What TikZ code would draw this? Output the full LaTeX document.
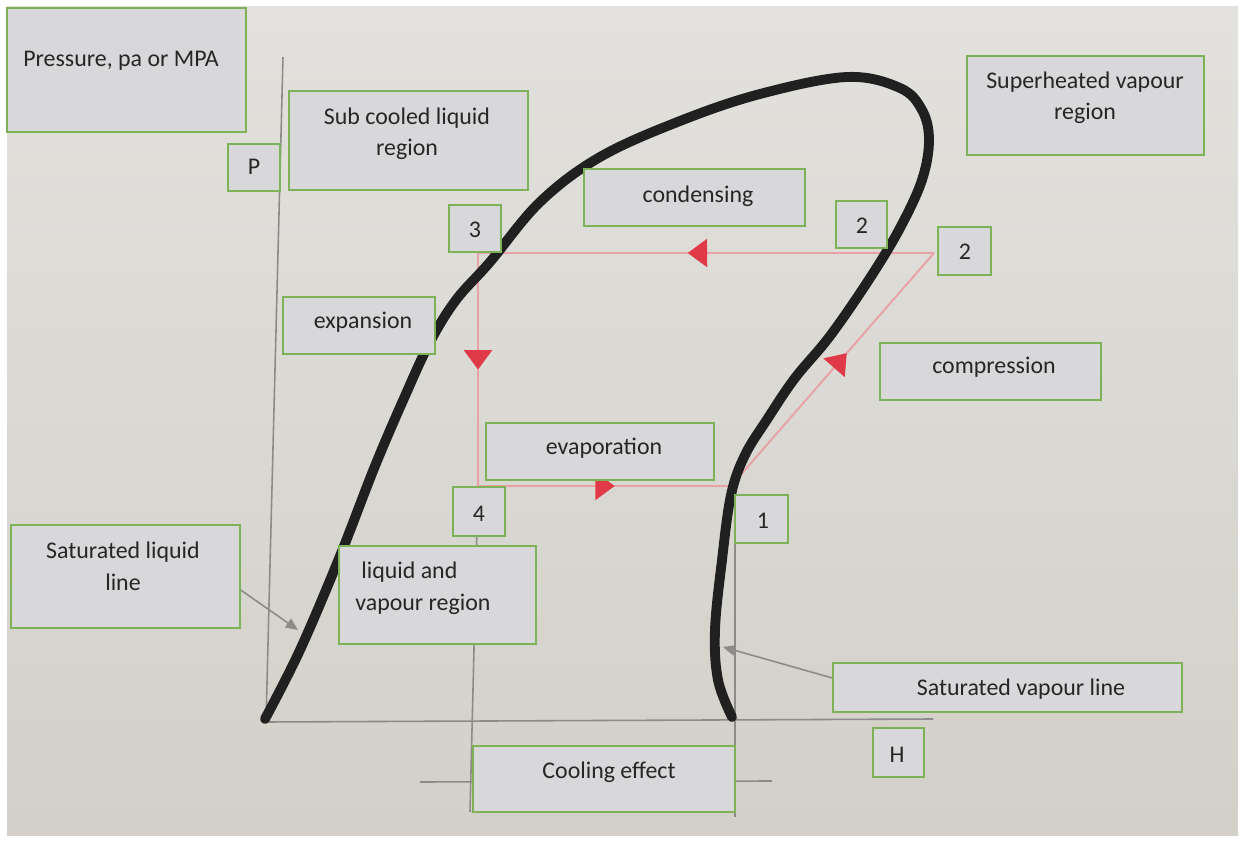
\documentclass[tikz,border=0pt]{standalone}
\usepackage{fontspec}
\setmainfont{Carlito}
\usetikzlibrary{arrows.meta,decorations.markings,fit}
\definecolor{bgtop}{HTML}{E2E1DD}
\definecolor{bgbot}{HTML}{D3D0C9}
\definecolor{boxfill}{HTML}{D8D8DB}
\definecolor{boxgreen}{HTML}{7DB356}
\definecolor{txtcol}{HTML}{262626}
\definecolor{axisgray}{HTML}{8C8B87}
\definecolor{cyclered}{HTML}{E8A2A6}
\definecolor{arrowred}{HTML}{E03A48}
\definecolor{curveblack}{HTML}{202020}
\tikzset{
  box/.style={draw=boxgreen, fill=boxfill, line width=0.8pt, inner sep=0pt},
  txt/.style={font=\fontsize{13.6}{18.1}\selectfont, text=txtcol, inner sep=0pt, anchor=base},
  axisline/.style={draw=axisgray, line width=0.9pt},
  leader/.style={draw=axisgray, line width=0.9pt, -{Triangle[length=7pt,width=6pt]}},
  redline/.style={draw=cyclered, line width=1.1pt},
  arrmid/.style={postaction={decorate, decoration={markings,
      mark=at position #1 with {\arrow{Triangle[length=11pt,width=16pt,color=arrowred]}}}}},
  satcurve/.style={draw=curveblack, line width=5.6pt, line cap=round, line join=round}
}
\begin{document}
\begin{tikzpicture}[x=0.02cm,y=-0.02cm]
\useasboundingbox (0,0) rectangle (1242,841);
\fill[white] (0,0) rectangle (1242,841);
\shade[top color=bgtop,bottom color=bgbot] (7,7) rectangle (1238,835);

% coordinates
\coordinate (axtop) at (283,57);
\coordinate (origin) at (266,722);
\coordinate (axright) at (933,719);
\coordinate (p3) at (478,253);
\coordinate (p2) at (934,253);
\coordinate (p4) at (478,486);
\coordinate (p1) at (731,486);
\coordinate (v4bot) at (470,812);
\coordinate (v1top) at (735,480);
\coordinate (v1bot) at (735,817);
\coordinate (dimL) at (420,782);
\coordinate (dimR) at (772,781);
\coordinate (slend) at (298,630);
\coordinate (svend) at (723,647);

% axes and guide lines
\draw[axisline] (axtop) -- (origin) -- (axright);
\draw[axisline] (p4) -- (v4bot);
\draw[axisline] (v1top) -- (v1bot);
\draw[axisline] (dimL) -- (dimR);

% refrigeration cycle
\draw[redline, arrmid=0.54] (p2) -- (p3);
\draw[redline, arrmid=0.50] (p3) -- (p4);
\draw[redline, arrmid=0.54] (p4) -- (p1);
\draw[redline, arrmid=0.57] (p1) -- (p2);

% saturation dome
\draw[satcurve] plot[smooth, tension=0.6] coordinates {
(265,719) (300,650) (340,556) (375,466) (405,396) (430,342) (456,300)
(490,262) (540,202) (600,157) (680,121) (760,94) (847,77) (900,88)
(922,110) (929,140) (922,180) (900,228) (870,278) (830,336) (795,378)
(768,418) (745,455) (731,495) (722,560) (715,630) (718,680) (732,717)};

% boxes
\node[box, fit={(7,8) (246,132)}] (pressure) {};
\node[txt] (tpressure) at (121,67) {Pressure, pa or MPA};
\node[box, fit={(228,144) (280,191)}] (pbox) {};
\node[txt] (tpbox) at (254,175) {P};
\node[box, fit={(289,91) (528,190)}] (subcooled) {};
\node[txt, align=center] (tsubcooled) at (407,156) {Sub cooled liquid\\region};
\node[box, fit={(967,56) (1204,155)}] (superheated) {};
\node[txt, align=center] (tsuperheated) at (1085,120) {Superheated vapour\\region};
\node[box, fit={(584,169) (805,226)}] (condensing) {};
\node[txt] (tcondensing) at (698,203) {condensing};
\node[box, fit={(836,201) (887,248)}] (twoa) {};
\node[txt] (ttwoa) at (862,234) {2};
\node[box, fit={(938,227) (991,275)}] (twob) {};
\node[txt] (ttwob) at (965,260) {2};
\node[box, fit={(449,205) (501,252)}] (three) {};
\node[txt] (tthree) at (475,238) {3};
\node[box, fit={(283,297) (435,354)}] (expansion) {};
\node[txt] (texpansion) at (363,329) {expansion};
\node[box, fit={(880,343) (1101,400)}] (compression) {};
\node[txt] (tcompression) at (994,374) {compression};
\node[box, fit={(486,423) (714,480)}] (evaporation) {};
\node[txt] (tevaporation) at (604,455) {evaporation};
\node[box, fit={(453,487) (505,536)}] (four) {};
\node[txt] (tfour) at (479,521) {4};
\node[box, fit={(735,495) (788,543)}] (one) {};
\node[txt] (tone) at (763,528) {1};
\node[box, fit={(11,525) (240,628)}] (satliq) {};
\node[txt, align=center] (tsatliq) at (123,590) {Saturated liquid\\line};
\node[box, fit={(339,546) (536,644)}] (liqvap) {};
\node[txt, align=left, anchor=base west] (tliqvap) at (355,610) {\hspace*{3.4pt}liquid and\\vapour region};
\node[box, fit={(833,663) (1182,712)}] (satvap) {};
\node[txt] (tsatvap) at (1021,695) {Saturated vapour line};
\node[box, fit={(873,728) (924,777)}] (hbox) {};
\node[txt] (thbox) at (897,762) {H};
\node[box, fit={(473,746) (735,812)}] (cooling) {};
\node[txt] (tcooling) at (609,778) {Cooling effect};

% leader arrows
\draw[leader] ([yshift=-0.27cm]satliq.east) -- (slend);
\draw[leader] ([yshift=0.19cm]satvap.west) -- (svend);
\end{tikzpicture}
\end{document}
